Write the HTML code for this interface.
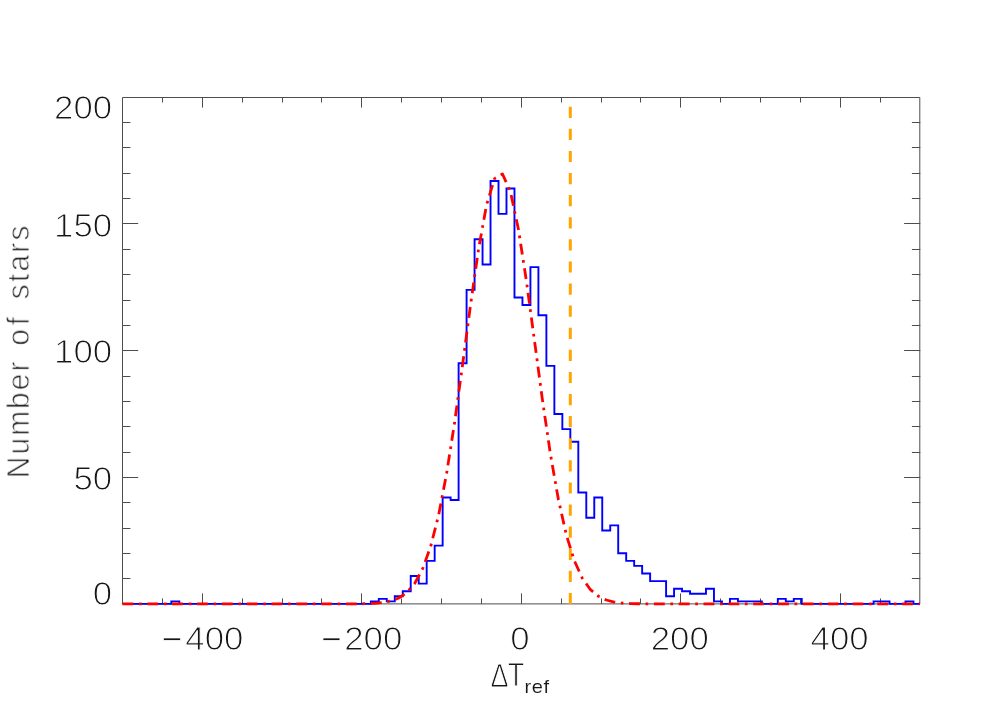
<!DOCTYPE html>
<html><head><meta charset="utf-8"><title>Histogram</title>
<style>
html,body{margin:0;padding:0;background:#fff;}
body{width:981px;height:701px;overflow:hidden;}
svg{display:block;}
text{font-family:"Liberation Sans",sans-serif;fill:#161616;}
.t{font-size:32.3px;letter-spacing:0.0px;stroke:#fff;stroke-width:1.0px;}
.yt{letter-spacing:0.4px;word-spacing:0px;}
.m{stroke-width:0.6px;}
.s{font-size:18.6px;letter-spacing:0.55px;stroke:#fff;stroke-width:0.12px;}
</style></head>
<body>
<svg width="981" height="701" viewBox="0 0 981 701">
<rect x="0" y="0" width="981" height="701" fill="#ffffff"/>
<!-- axes box and ticks -->
<path d="M122.5 603.9 V97.5 H919.8 V603.9" fill="none" stroke="#4d4d4d" stroke-width="1"/>
<path d="M122.5 603.9 H919.8" fill="none" stroke="#4d4d4d" stroke-width="1"/>
<path d="M162.5 604.0 v-5.50 M162.5 97.0 v5.50 M202.5 604.0 v-10.60 M202.5 97.0 v10.60 M242.5 604.0 v-5.50 M242.5 97.0 v5.50 M282.5 604.0 v-5.50 M282.5 97.0 v5.50 M321.5 604.0 v-5.50 M321.5 97.0 v5.50 M361.5 604.0 v-10.60 M361.5 97.0 v10.60 M401.5 604.0 v-5.50 M401.5 97.0 v5.50 M441.5 604.0 v-5.50 M441.5 97.0 v5.50 M481.5 604.0 v-5.50 M481.5 97.0 v5.50 M521.5 604.0 v-10.60 M521.5 97.0 v10.60 M561.5 604.0 v-5.50 M561.5 97.0 v5.50 M601.5 604.0 v-5.50 M601.5 97.0 v5.50 M640.5 604.0 v-5.50 M640.5 97.0 v5.50 M680.5 604.0 v-10.60 M680.5 97.0 v10.60 M720.5 604.0 v-5.50 M720.5 97.0 v5.50 M760.5 604.0 v-5.50 M760.5 97.0 v5.50 M800.5 604.0 v-5.50 M800.5 97.0 v5.50 M840.5 604.0 v-10.60 M840.5 97.0 v10.60 M880.5 604.0 v-5.50 M880.5 97.0 v5.50 M122.0 578.5 h8.40 M920.3 578.5 h-8.40 M122.0 553.5 h8.40 M920.3 553.5 h-8.40 M122.0 528.5 h8.40 M920.3 528.5 h-8.40 M122.0 502.5 h8.40 M920.3 502.5 h-8.40 M122.0 477.5 h16.20 M920.3 477.5 h-16.20 M122.0 452.5 h8.40 M920.3 452.5 h-8.40 M122.0 426.5 h8.40 M920.3 426.5 h-8.40 M122.0 401.5 h8.40 M920.3 401.5 h-8.40 M122.0 376.5 h8.40 M920.3 376.5 h-8.40 M122.0 350.5 h16.20 M920.3 350.5 h-16.20 M122.0 325.5 h8.40 M920.3 325.5 h-8.40 M122.0 300.5 h8.40 M920.3 300.5 h-8.40 M122.0 274.5 h8.40 M920.3 274.5 h-8.40 M122.0 249.5 h8.40 M920.3 249.5 h-8.40 M122.0 223.5 h16.20 M920.3 223.5 h-16.20 M122.0 198.5 h8.40 M920.3 198.5 h-8.40 M122.0 173.5 h8.40 M920.3 173.5 h-8.40 M122.0 147.5 h8.40 M920.3 147.5 h-8.40 M122.0 122.5 h8.40 M920.3 122.5 h-8.40" fill="none" stroke="#4d4d4d" stroke-width="1"/>
<!-- histogram -->
<path d="M122.50 603.90 L171.33 603.90 L171.33 601.37 L179.31 601.37 L179.31 603.90 L370.83 603.90 L370.83 601.37 L378.81 601.37 L378.81 598.83 L386.79 598.83 L386.79 601.37 L394.77 601.37 L394.77 596.30 L402.75 596.30 L402.75 591.24 L410.73 591.24 L410.73 576.04 L418.71 576.04 L418.71 583.64 L426.69 583.64 L426.69 560.85 L434.67 560.85 L434.67 545.65 L442.65 545.65 L442.65 497.53 L450.63 497.53 L450.63 500.07 L458.61 500.07 L458.61 363.31 L466.59 363.31 L466.59 289.87 L474.57 289.87 L474.57 239.22 L482.55 239.22 L482.55 264.54 L490.53 264.54 L490.53 180.97 L498.51 180.97 L498.51 213.89 L506.49 213.89 L506.49 188.57 L514.47 188.57 L514.47 297.47 L522.45 297.47 L522.45 305.06 L530.43 305.06 L530.43 267.08 L538.41 267.08 L538.41 315.19 L546.39 315.19 L546.39 365.84 L554.37 365.84 L554.37 413.96 L562.35 413.96 L562.35 429.16 L570.33 429.16 L570.33 441.82 L578.31 441.82 L578.31 492.47 L586.29 492.47 L586.29 517.79 L594.27 517.79 L594.27 497.53 L602.25 497.53 L602.25 530.46 L610.23 530.46 L610.23 525.39 L618.21 525.39 L618.21 553.25 L626.19 553.25 L626.19 560.85 L634.17 560.85 L634.17 565.91 L642.15 565.91 L642.15 573.51 L650.13 573.51 L650.13 581.11 L666.09 581.11 L666.09 596.30 L674.07 596.30 L674.07 588.70 L682.05 588.70 L682.05 591.24 L690.03 591.24 L690.03 593.77 L705.99 593.77 L705.99 588.70 L713.97 588.70 L713.97 601.37 L721.95 601.37 L721.95 603.90 L729.93 603.90 L729.93 598.83 L737.91 598.83 L737.91 601.37 L761.85 601.37 L761.85 603.90 L777.81 603.90 L777.81 598.83 L785.79 598.83 L785.79 601.37 L793.77 601.37 L793.77 598.83 L801.75 598.83 L801.75 603.90 L873.57 603.90 L873.57 601.37 L889.53 601.37 L889.53 603.90 L905.49 603.90 L905.49 601.37 L913.47 601.37 L913.47 603.90 L919.80 603.90" fill="none" stroke="#0000ff" stroke-width="1.9" stroke-linejoin="miter"/>
<!-- vertical dashed line -->
<path d="M570.3 604.1 V97.5" fill="none" stroke="#ffa500" stroke-width="3" stroke-dasharray="11.2 10.9"/>
<!-- gaussian fit -->
<path d="M122.50 603.90 L127.44 603.90 L135.42 603.90 L143.40 603.90 L151.38 603.90 L159.36 603.90 L167.34 603.90 L175.32 603.90 L183.30 603.90 L191.28 603.90 L199.26 603.90 L207.24 603.90 L215.22 603.90 L223.20 603.90 L231.18 603.90 L239.16 603.90 L247.14 603.90 L255.12 603.90 L263.10 603.90 L271.08 603.90 L279.06 603.90 L287.04 603.90 L295.02 603.90 L303.00 603.90 L310.98 603.90 L318.96 603.90 L326.94 603.90 L334.92 603.90 L342.90 603.89 L350.88 603.86 L358.86 603.80 L366.84 603.64 L374.82 603.29 L382.80 602.53 L390.78 600.97 L398.76 598.00 L406.74 592.60 L414.72 583.40 L422.70 568.64 L430.68 546.37 L438.66 514.92 L446.64 473.39 L454.62 422.39 L462.60 364.54 L470.58 304.60 L478.56 249.03 L486.54 204.94 L494.52 178.60 L502.50 174.01 L510.48 191.88 L518.46 229.45 L526.44 281.23 L534.42 340.24 L542.40 399.63 L550.38 453.83 L558.36 499.36 L566.34 534.85 L574.32 560.65 L582.30 578.22 L590.28 589.44 L598.26 596.18 L606.24 599.99 L614.22 602.02 L622.20 603.05 L630.18 603.53 L638.16 603.75 L646.14 603.84 L654.12 603.88 L662.10 603.89 L670.08 603.90 L678.06 603.90 L686.04 603.90 L694.02 603.90 L702.00 603.90 L709.98 603.90 L717.96 603.90 L725.94 603.90 L733.92 603.90 L741.90 603.90 L749.88 603.90 L757.86 603.90 L765.84 603.90 L773.82 603.90 L781.80 603.90 L789.78 603.90 L797.76 603.90 L805.74 603.90 L813.72 603.90 L821.70 603.90 L829.68 603.90 L837.66 603.90 L845.64 603.90 L853.62 603.90 L861.60 603.90 L869.58 603.90 L877.56 603.90 L885.54 603.90 L893.52 603.90 L901.50 603.90 L909.48 603.90 L917.46 603.90 L919.80 603.90" fill="none" stroke="#ff0000" stroke-width="2.8" stroke-dasharray="10.93 5.6 2.7 5.6" stroke-linejoin="round"/>
<!-- labels -->
<g opacity="0.999">
<text class="t" transform="scale(1.079 1)"><tspan class="m" x="150.18" y="649.70">−</tspan><tspan x="198.67" y="649.55" text-anchor="middle">400</tspan></text>
<text class="t" transform="scale(1.079 1)"><tspan class="m" x="297.89" y="649.82">−</tspan><tspan x="345.96" y="649.55" text-anchor="middle">200</tspan></text>
<text class="t" transform="scale(1.079 1)" x="481.93" y="649.55" text-anchor="middle">0</text>
<text class="t" transform="scale(1.079 1)" x="630.05" y="649.55" text-anchor="middle">200</text>
<text class="t" transform="scale(1.079 1)" x="778.18" y="649.55" text-anchor="middle">400</text>
<text class="t" transform="scale(1.079 1)" x="104.03" y="119.00" text-anchor="end">200</text>
<text class="t" transform="scale(1.079 1)" x="104.03" y="236.75" text-anchor="end">150</text>
<text class="t" transform="scale(1.079 1)" x="104.03" y="363.30" text-anchor="end">100</text>
<text class="t" transform="scale(1.079 1)" x="104.03" y="490.00" text-anchor="end">50</text>
<text class="t" transform="scale(1.079 1)" x="104.03" y="604.95" text-anchor="end">0</text>
<text class="t" transform="scale(0.840 1)" x="584.02 604.42" y="686.95 686.25">ΔT</text>
<text class="s" transform="scale(1.080 1)" x="485.60" y="693.00">ref</text>
<text class="t" transform="translate(29.15 475.10) rotate(-90) scale(0.930 1)"><tspan x="-3.32" letter-spacing="2.12">Number</tspan> <tspan x="139.18" letter-spacing="4.04">of</tspan> <tspan x="189.03" letter-spacing="2.35">stars</tspan></text>
</g>
</svg>
</body></html>
